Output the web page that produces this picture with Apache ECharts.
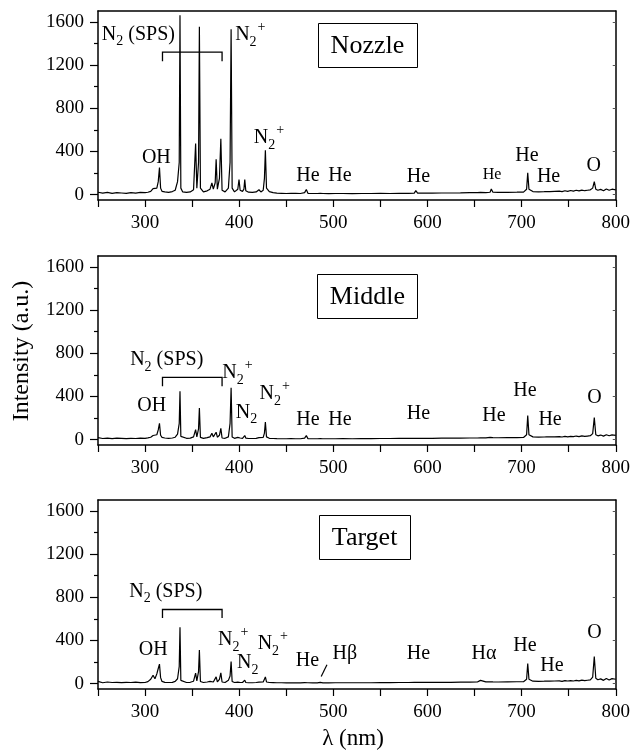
<!DOCTYPE html>
<html><head><meta charset="utf-8">
<script src="https://cdn.jsdelivr.net/npm/echarts@6/dist/echarts.min.js"></script>
<style>html,body{margin:0;padding:0;background:#fff}#c{width:633px;height:754px}</style>
</head><body><div id="c"></div>
<script>
// ---------- DATA ----------
const wavelengths = [
  250,255,260,265,270,275,280,285,290,295,
  300,303,306,308.5,310.5,312.5,314,315.3,316.5,318,
  321,325,329,332,334.5,336.3,337.1,338,340,344,
  348,351.5,353.7,355,356.8,357.7,358.8,362,366,369,
  371,372.5,374.5,375.5,376.8,379,380.5,381.8,385,388.5,
  390.3,391.4,392.5,395,398.5,399.8,401,403.5,405,405.9,
  407,410,414,418,421,423,425.5,426.8,427.8,429,
  432,436,440,445,450,455,460,465,469.5,471.3,
  473,478,483,486.1,489,495,502,510,520,530,
  540,550,560,570,580,586,587.6,589.5,595,605,
  615,625,635,645,653,655,656.3,658,662,666.5,
  667.8,669.5,675,685,695,702,705.3,706.5,707.8,712,
  718,724,726.5,728.1,730,735,740,743,746,749,
  752,755,758,761,764,767,770,773,775.5,777.2,
  778.8,781,784,787,790,793,796,800
];
const nozzle = [
  22,14,20,12,18,15,12,19,14,20,
  18,22,30,55,40,60,120,250,60,30,
  25,20,28,40,120,300,1660,60,25,20,
  25,45,472,60,300,1553,60,25,35,50,
  108,50,110,326,50,150,518,40,25,60,
  300,1532,60,25,50,140,40,30,50,140,
  35,22,20,25,45,25,40,150,410,60,
  28,18,14,12,10,12,11,10,18,47,
  12,10,10,12,10,9,10,10,9,10,
  10,11,10,12,12,14,37,14,13,14,
  15,15,16,18,18,19,20,19,19,22,
  52,22,20,21,22,23,50,201,50,28,
  25,27,28,40,28,30,32,28,36,30,
  38,32,40,34,42,36,40,44,60,121,
  50,40,48,36,52,40,50,44
];
const middle = [
  18,10,14,9,13,11,9,12,10,13,
  12,16,22,38,28,45,90,151,40,20,
  15,12,15,22,50,150,447,30,15,12,
  14,25,92,25,100,293,20,12,18,25,
  58,25,35,68,22,40,105,15,12,25,
  150,481,25,12,20,37,15,12,20,37,
  14,10,10,12,18,12,20,60,163,25,
  12,10,9,8,8,9,8,8,14,37,
  9,8,8,9,8,8,8,9,8,9,
  9,10,10,11,11,12,22,12,12,12,
  13,13,14,15,15,16,17,16,16,20,
  37,18,17,18,19,20,45,222,45,25,
  22,24,25,37,26,25,28,24,30,26,
  30,27,33,28,35,30,33,36,55,203,
  45,35,42,32,45,36,44,40
];
const target = [
  20,8,15,10,12,9,11,10,13,9,
  10,18,40,78,45,90,140,180,55,20,
  12,10,12,20,45,160,521,30,12,10,
  12,22,97,25,110,310,20,10,15,20,
  35,15,25,62,15,40,100,15,10,30,
  70,205,20,10,14,25,10,10,15,32,
  10,8,8,10,14,10,15,30,62,15,
  10,9,8,8,7,8,7,7,9,15,
  8,7,7,12,7,7,8,8,8,8,
  8,9,9,10,10,11,16,11,11,11,
  12,12,13,14,15,18,30,17,16,17,
  20,16,15,16,17,18,40,186,40,22,
  20,22,23,28,22,24,25,21,28,24,
  27,24,30,26,32,28,31,34,60,251,
  50,36,44,30,48,34,46,40
];
const panelNames = ['Nozzle', 'Middle', 'Target'];
const xLabelValues = [300, 400, 500, 600, 700, 800];
const yTickValues = [0, 400, 800, 1200, 1600];
const yMinorValues = [200, 600, 1000, 1400];
const xAxisName = 'λ (nm)';
const yAxisName = 'Intensity (a.u.)';

// ---------- LAYOUT / STYLE ----------
const FAMILY = 'Liberation Serif';
const FONT = '"Liberation Serif", serif';
const series = [nozzle, middle, target];
const gridTops = [11, 256, 500];
const gridH = 189;

// annotations per panel: [kind/text, wavelength, intensity, fontSize]
const annotations = [
  [
    ['N2SPS', 292.9, 1483], ['N2+', 411.8, 1476], ['N2+', 431.5, 525], ['OH', 312, 343],
    ['He', 473, 171], ['He', 507, 171], ['He', 590.4, 166], ['He', 668.5, 180, 16],
    ['He', 705.7, 362], ['He', 728.6, 166], ['O', 776.7, 268]
  ],
  [
    ['N2SPS', 323, 737], ['N2+', 398.2, 615], ['N2', 407.8, 252], ['N2+', 437.8, 423],
    ['OH', 307, 314], ['He', 473, 180], ['He', 507, 180], ['He', 590.4, 236],
    ['He', 670.6, 217], ['He', 703.6, 453], ['He', 730.2, 180], ['O', 777.5, 384]
  ],
  [
    ['N2SPS', 322, 851], ['OH', 308.7, 309], ['N2+', 393.7, 404], ['N2', 409.1, 190],
    ['N2+', 435.7, 367], ['He', 472.4, 211], ['Hβ', 512.3, 276], ['He', 590.4, 272],
    ['Hα', 660, 281], ['He', 703.6, 355], ['He', 732.3, 165], ['O', 777.5, 467]
  ]
];
const brackets = [[318.5, 381.8, 1320, 1234], [318.5, 381.8, 576, 493], [318.5, 381.8, 686, 608]];
const boxes = [[536.2, 1385, 99], [536.2, 1329, 100], [533.2, 1355, 91]];

const chart = echarts.init(document.getElementById('c'), null, { renderer: 'canvas' });

const grid = [], xAxis = [], yAxis = [], seriesOpt = [];
const axisLineStyle = { color: '#000', width: 1.5 };
const richLab = { s: { color: '#000', fontSize: 19, fontFamily: FAMILY } };
const labelStyle = { color: '#000', fontSize: 19, fontFamily: FAMILY, rich: richLab };
for (let i = 0; i < 3; i++) {
  grid.push({ left: 98, width: 518, top: gridTops[i], height: gridH });
  xAxis.push({
    gridIndex: i, type: 'value', min: 250, max: 800, interval: 50, position: 'bottom',
    axisLine: { onZero: false, lineStyle: axisLineStyle },
    axisTick: { inside: false, length: 7, lineStyle: { color: '#000', width: 1.2 } },
    axisLabel: Object.assign({}, labelStyle, {
      margin: 14, showMaxLabel: true, showMinLabel: true,
      formatter: v => xLabelValues.indexOf(v) >= 0 ? '{s|' + v + '}' : ''
    }),
    splitLine: { show: false }
  });
  xAxis.push({
    gridIndex: i, type: 'value', min: 250, max: 800, interval: 50, position: 'top',
    axisLine: { onZero: false, lineStyle: axisLineStyle },
    axisTick: { show: false }, axisLabel: { show: false }, splitLine: { show: false }
  });
  yAxis.push({
    gridIndex: i, type: 'value', min: -50, max: 1700, position: 'left',
    axisLine: { show: true, onZero: false, lineStyle: axisLineStyle },
    axisTick: { show: true, inside: false, length: 8, customValues: yTickValues, lineStyle: { color: '#000', width: 1.2 } },
    axisLabel: Object.assign({}, labelStyle, { margin: 14, customValues: yTickValues, formatter: v => '{s|' + v + '}' }),
    splitLine: { show: false }
  });
  yAxis.push({
    gridIndex: i, type: 'value', min: -50, max: 1700, position: 'left', offset: 0,
    axisLine: { show: false, onZero: false },
    axisTick: { show: true, inside: false, length: 4, customValues: yMinorValues, lineStyle: { color: '#000', width: 1.2 } },
    axisLabel: { show: false }, splitLine: { show: false }
  });
  yAxis.push({
    gridIndex: i, type: 'value', min: -50, max: 1700, position: 'right',
    axisLine: { show: true, onZero: false, lineStyle: axisLineStyle },
    axisTick: { show: true, inside: true, length: 3, customValues: yTickValues, lineStyle: { color: '#555', width: 1 } },
    axisLabel: { show: false }, splitLine: { show: false }
  });
  seriesOpt.push({
    type: 'line', xAxisIndex: 2 * i, yAxisIndex: 3 * i,
    data: wavelengths.map((w, k) => [w, series[i][k]]),
    showSymbol: false, symbol: 'none', smooth: false,
    lineStyle: { color: '#000', width: 1.2 }, z: 5
  });
}

chart.setOption({
  backgroundColor: '#fff', animation: false,
  textStyle: { fontFamily: FAMILY, color: '#000' },
  grid, xAxis, yAxis, series: seriesOpt
});

// ---------- annotations ----------
const ctx = document.createElement('canvas').getContext('2d');
function measure(t, size) { ctx.font = size + 'px ' + FONT; return ctx.measureText(t).width; }
function textEl(t, x, y, size, align) {
  return { type: 'text', x, y, z: 100, silent: true,
    style: { text: t, fontSize: size, fontFamily: FAMILY, fill: '#000',
      align: align || 'left', textAlign: align || 'left', verticalAlign: 'middle', textVerticalAlign: 'middle' } };
}
function partsFor(kind) {
  if (kind === 'N2SPS') return [{ t: 'N' }, { t: '2', dy: 7 }, { t: ' (SPS)' }];
  if (kind === 'N2+') return [{ t: 'N' }, { t: '2', dy: 7 }, { t: '+', dy: -8, gap: 1 }];
  if (kind === 'N2') return [{ t: 'N' }, { t: '2', dy: 7 }];
  return [{ t: kind }];
}
const graphic = [];
for (let i = 0; i < 3; i++) {
  const finder = { xAxisIndex: 2 * i, yAxisIndex: 3 * i };
  const px = (x, y) => chart.convertToPixel(finder, [x, y]);
  annotations[i].forEach(a => {
    const size = a[3] || 20;
    const parts = partsFor(a[0]);
    const subSize = 14;
    let total = 0;
    parts.forEach(p => { p.size = p.dy ? subSize : size; p.w = measure(p.t, p.size) + (p.gap || 0); total += p.w; });
    const c = px(a[1], a[2]);
    let x = c[0] - total / 2;
    parts.forEach(p => { graphic.push(textEl(p.t, x + (p.gap || 0), c[1] + (p.dy || 0), p.size)); x += p.w; });
  });
  const b = brackets[i];
  const p1 = px(b[0], b[3]), p2 = px(b[0], b[2]), p3 = px(b[1], b[2]), p4 = px(b[1], b[3]);
  graphic.push({ type: 'polyline', z: 100, silent: true, shape: { points: [p1, p2, p3, p4] },
    style: { stroke: '#000', lineWidth: 1.3, fill: null } });
  const bx = boxes[i], bc = px(bx[0], bx[1]);
  graphic.push({ type: 'rect', z: 99, silent: true,
    shape: { x: Math.round(bc[0] - bx[2] / 2) + 0.5, y: Math.round(bc[1] - 22) + 0.5, width: bx[2], height: 44 },
    style: { fill: '#fff', stroke: '#000', lineWidth: 1 } });
  graphic.push(textEl(panelNames[i], bc[0], bc[1] + 1, 26, 'center'));
}
{
  const finder = { xAxisIndex: 4, yAxisIndex: 6 };
  const a = chart.convertToPixel(finder, [487.1, 65]), b = chart.convertToPixel(finder, [493.2, 174]);
  graphic.push({ type: 'line', z: 100, silent: true, shape: { x1: a[0], y1: a[1], x2: b[0], y2: b[1] },
    style: { stroke: '#000', lineWidth: 1.2 } });
}
graphic.push(textEl(xAxisName, 353, 739, 23, 'center'));
const yn = textEl(yAxisName, 22, 351, 24, 'center');
yn.rotation = Math.PI / 2;
graphic.push(yn);

chart.setOption({ graphic });
</script>
</body></html>
